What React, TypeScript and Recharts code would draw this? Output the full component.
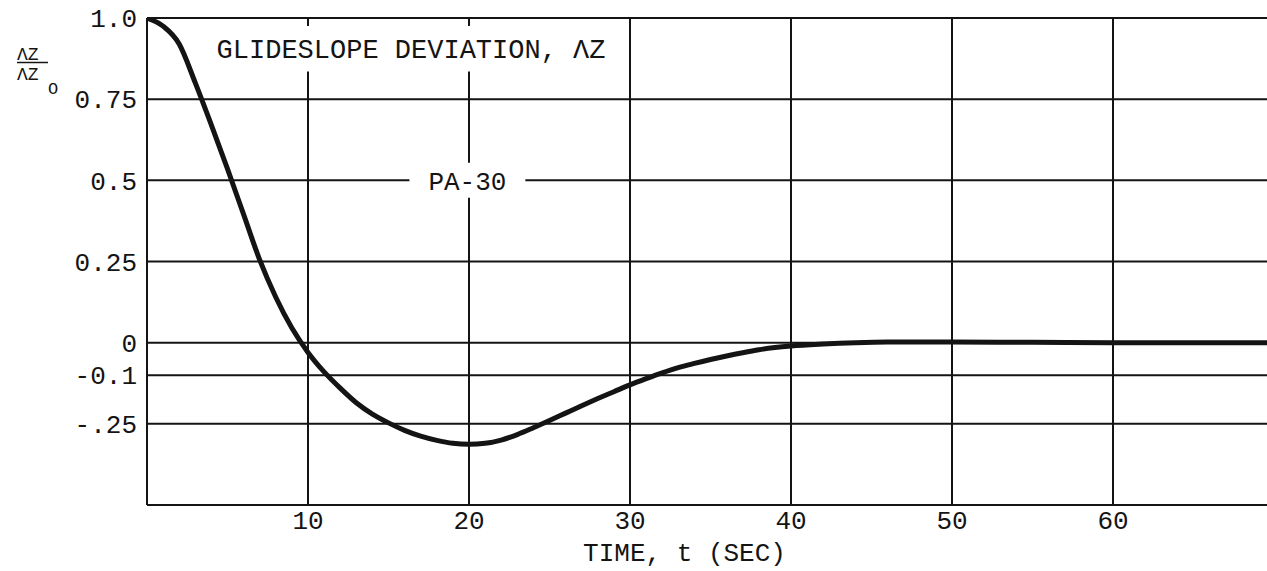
import React from 'react';
import { LineChart, Line, XAxis, YAxis, CartesianGrid, ReferenceArea, Label } from 'recharts';

const times = [0, 1, 2, 3, 4, 5, 6, 7, 8, 9, 10, 11, 12, 13, 14, 15, 16, 17, 18, 19, 20, 21, 22, 23, 24, 25, 26, 27, 28, 29, 30, 31, 32, 33, 34, 35, 36, 37, 38, 39, 40, 42, 44, 46, 50, 55, 60, 65, 70];
const deviation = [1.0, 0.975, 0.92, 0.8, 0.67, 0.535, 0.395, 0.255, 0.14, 0.045, -0.03, -0.09, -0.14, -0.185, -0.22, -0.247, -0.27, -0.288, -0.301, -0.31, -0.313, -0.31, -0.3, -0.283, -0.262, -0.24, -0.217, -0.194, -0.172, -0.151, -0.13, -0.111, -0.093, -0.077, -0.064, -0.052, -0.041, -0.031, -0.022, -0.015, -0.01, -0.004, 0, 0.002, 0.002, 0.001, 0, 0, 0];

const xTicks = [10, 20, 30, 40, 50, 60];
const yTicks = [1, 0.75, 0.5, 0.25, 0, -0.1, -0.25];
const yTickLabels = ['1.0', '0.75', '0.5', '0.25', '0', '-0.1', '-.25'];

const titleText = 'GLIDESLOPE DEVIATION, ΛZ';
const seriesName = 'PA-30';
const xTitle = 'TIME, t (SEC)';

const data = times.map((t, i) => ({ t, v: deviation[i] }));

const FONT = "'Liberation Mono', 'Courier New', monospace";
const INK = '#141414';

const FracLabel = () => (
  <g fontFamily={FONT} fill={INK}>
    <text x={17} y={60} fontSize={18}>ΛZ</text>
    <line x1={17} x2={48} y1={62.5} y2={62.5} stroke={INK} strokeWidth={1.5} />
    <text x={17} y={80} fontSize={18}>ΛZ</text>
    <text x={48} y={94} fontSize={17}>O</text>
  </g>
);

export default function App() {
  return (
    <div style={{ position: 'fixed', top: 0, left: 0, width: 1267, height: 571, overflow: 'hidden', background: '#fff' }}>
      <LineChart width={1274} height={571} data={data} margin={{ top: 18, right: 0, bottom: 0, left: 0 }}>
        <CartesianGrid stroke={INK} strokeWidth={2} />
        <XAxis
          dataKey="t"
          type="number"
          domain={[0, 70]}
          ticks={xTicks}
          interval={0}
          height={66}
          tickSize={0}
          tickMargin={6}
          tickLine={false}
          axisLine={{ stroke: INK, strokeWidth: 2 }}
          tick={{ fill: INK, fontSize: 26, fontFamily: FONT }}
          allowDataOverflow
        >
          <Label value={xTitle} position="insideBottom" dx={-26} offset={10} fill={INK} fontSize={26} fontFamily={FONT} />
        </XAxis>
        <YAxis
          type="number"
          domain={[-0.5, 1]}
          ticks={yTicks}
          interval={0}
          width={147}
          tickSize={0}
          tickMargin={10}
          tickLine={false}
          axisLine={{ stroke: INK, strokeWidth: 2 }}
          tick={{ fill: INK, fontSize: 26, fontFamily: FONT }}
          tickFormatter={(v: number) => yTickLabels[yTicks.indexOf(v)] ?? String(v)}
          allowDataOverflow
        >
          <Label content={FracLabel} />
        </YAxis>
        <ReferenceArea
          x1={4}
          x2={28.8}
          y1={0.835}
          y2={0.975}
          fill="#fff"
          fillOpacity={1}
          stroke="none"
          label={{ value: titleText, position: 'center', fill: INK, fontSize: 27, fontFamily: FONT }}
        />
        <ReferenceArea
          x1={16.3}
          x2={23.5}
          y1={0.446}
          y2={0.554}
          fill="#fff"
          fillOpacity={1}
          stroke="none"
          label={{ value: seriesName, position: 'center', fill: INK, fontSize: 26, fontFamily: FONT }}
        />
        <Line
          type="monotone"
          dataKey="v"
          name={seriesName}
          stroke={INK}
          strokeWidth={5}
          dot={false}
          isAnimationActive={false}
        />
      </LineChart>
    </div>
  );
}
